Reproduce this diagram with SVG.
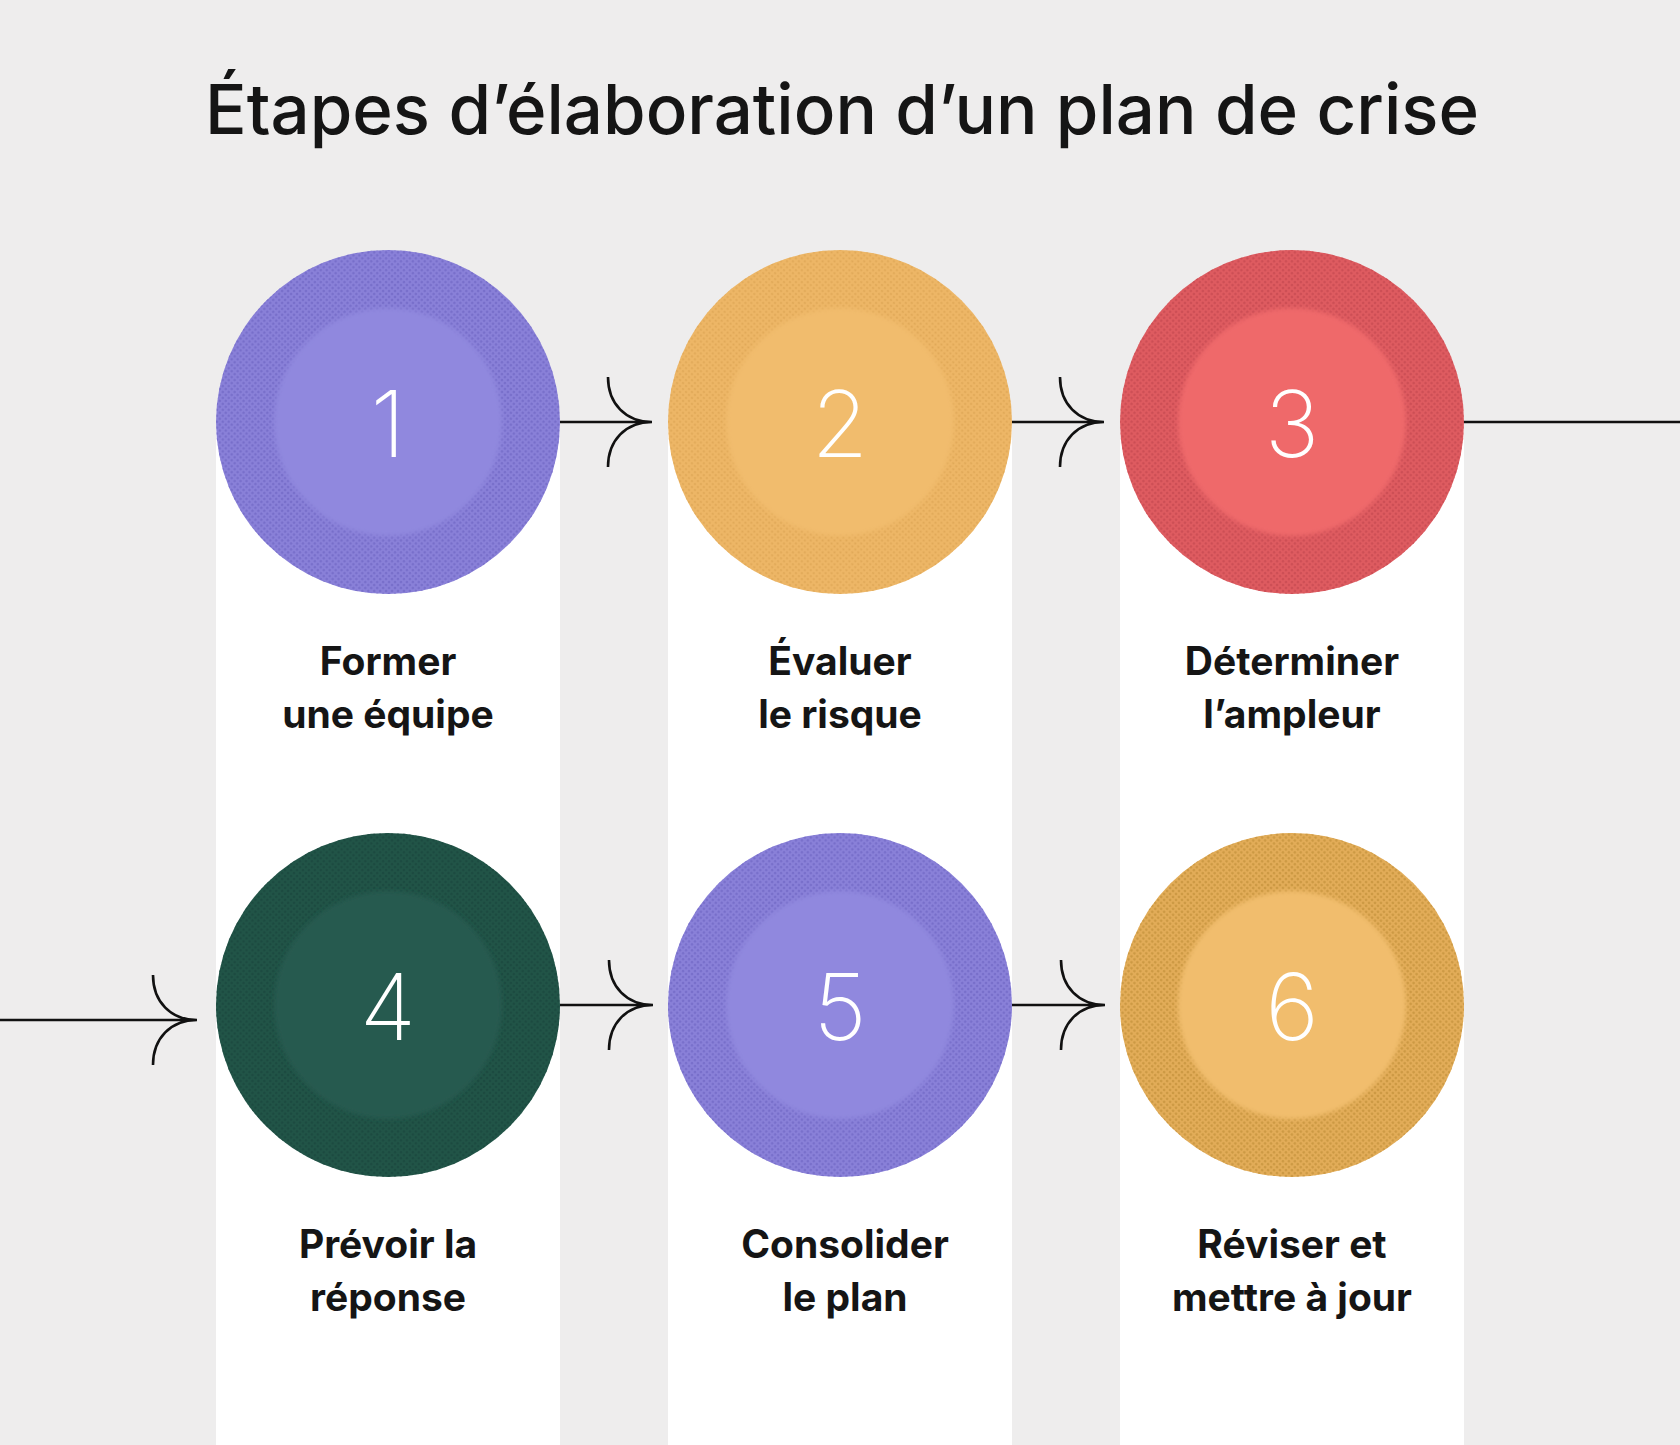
<svg xmlns="http://www.w3.org/2000/svg" width="1680" height="1445" viewBox="0 0 1680 1445">
<style>
.title{font-family:Inter,"Noto Sans",sans-serif;font-weight:500;font-size:69px;fill:#151515;text-anchor:middle}
.num{font-family:Inter,"Noto Sans",sans-serif;font-weight:200;font-size:92px;fill:#ffffff;text-anchor:middle}
.lbl{font-family:Inter,"Noto Sans",sans-serif;font-weight:700;font-size:39px;fill:#151515;text-anchor:middle}
.col{fill:#ffffff}
.conn{fill:none;stroke:#111111;stroke-width:2.6;stroke-linecap:butt}
</style>
<defs>
<pattern id="dPurple" width="4.2" height="4.2" patternUnits="userSpaceOnUse" patternTransform="rotate(45)"><circle cx="2.1" cy="2.1" r="1.2" fill="#7269c6"/></pattern>
<pattern id="dYellow" width="4.2" height="4.2" patternUnits="userSpaceOnUse" patternTransform="rotate(45)"><circle cx="2.1" cy="2.1" r="1.1" fill="#dba352"/></pattern>
<pattern id="dRed" width="4.2" height="4.2" patternUnits="userSpaceOnUse" patternTransform="rotate(45)"><circle cx="2.1" cy="2.1" r="1.2" fill="#c84b52"/></pattern>
<pattern id="dGreen" width="4.2" height="4.2" patternUnits="userSpaceOnUse" patternTransform="rotate(45)"><circle cx="2.1" cy="2.1" r="1.2" fill="#1a473e"/></pattern>
<pattern id="dGold" width="4.2" height="4.2" patternUnits="userSpaceOnUse" patternTransform="rotate(45)"><circle cx="2.1" cy="2.1" r="1.3" fill="#c8953f"/></pattern>
<filter id="soft" x="-10%" y="-10%" width="120%" height="120%"><feGaussianBlur stdDeviation="2"/></filter>
</defs>
<rect x="0" y="0" width="1680" height="1445" fill="#eeeded"/>
<rect class="col" x="216" y="422" width="344" height="1023"/>
<rect class="col" x="668" y="422" width="344" height="1023"/>
<rect class="col" x="1120" y="422" width="344" height="1023"/>
<text class="title" x="842" y="134">Étapes d’élaboration d’un plan de crise</text>
<g id="connectors">
<path class="conn" d="M560 422 H652 M608 377 C608 404 626 422 652 422 C626 422 608 440 608 467"/>
<path class="conn" d="M1012 422 H1104 M1060 377 C1060 404 1078 422 1104 422 C1078 422 1060 440 1060 467"/>
<path class="conn" d="M1464 422 H1680"/>
<path class="conn" d="M0 1020 H197 M153 975 C153 1002 171 1020 197 1020 C171 1020 153 1038 153 1065"/>
<path class="conn" d="M560 1005 H653 M609 960 C609 987 627 1005 653 1005 C627 1005 609 1023 609 1050"/>
<path class="conn" d="M1012 1005 H1105 M1061 960 C1061 987 1079 1005 1105 1005 C1079 1005 1061 1023 1061 1050"/>
</g>
<g id="node1">
<circle cx="388" cy="422" r="172" fill="#8980d8"/>
<circle cx="388" cy="422" r="172" fill="url(#dPurple)" opacity="0.8"/>
<circle cx="388" cy="422" r="114" fill="#9088de" filter="url(#soft)"/>
<text class="num" x="388" y="457">1</text>
<text class="lbl" x="388" y="675">Former</text>
<text class="lbl" x="388" y="728">une équipe</text>
</g>
<g id="node2">
<circle cx="840" cy="422" r="172" fill="#edb666"/>
<circle cx="840" cy="422" r="172" fill="url(#dYellow)" opacity="0.7"/>
<circle cx="840" cy="422" r="114" fill="#f1bc6d" filter="url(#soft)"/>
<text class="num" x="840" y="457">2</text>
<text class="lbl" x="840" y="675">Évaluer</text>
<text class="lbl" x="840" y="728">le risque</text>
</g>
<g id="node3">
<circle cx="1292" cy="422" r="172" fill="#de5b60"/>
<circle cx="1292" cy="422" r="172" fill="url(#dRed)" opacity="0.85"/>
<circle cx="1292" cy="422" r="114" fill="#ef696b" filter="url(#soft)"/>
<text class="num" x="1292" y="457">3</text>
<text class="lbl" x="1292" y="675">Déterminer</text>
<text class="lbl" x="1292" y="728">l’ampleur</text>
</g>
<g id="node4">
<circle cx="388" cy="1005" r="172" fill="#215447"/>
<circle cx="388" cy="1005" r="172" fill="url(#dGreen)" opacity="0.8"/>
<circle cx="388" cy="1005" r="114" fill="#265a50" filter="url(#soft)"/>
<text class="num" x="388" y="1040">4</text>
<text class="lbl" x="388" y="1258">Prévoir la</text>
<text class="lbl" x="388" y="1311">réponse</text>
</g>
<g id="node5">
<circle cx="840" cy="1005" r="172" fill="#8980d8"/>
<circle cx="840" cy="1005" r="172" fill="url(#dPurple)" opacity="0.8"/>
<circle cx="840" cy="1005" r="114" fill="#9088de" filter="url(#soft)"/>
<text class="num" x="840" y="1040">5</text>
<text class="lbl" x="845" y="1258">Consolider</text>
<text class="lbl" x="845" y="1311">le plan</text>
</g>
<g id="node6">
<circle cx="1292" cy="1005" r="172" fill="#e2ac58"/>
<circle cx="1292" cy="1005" r="172" fill="url(#dGold)" opacity="0.85"/>
<circle cx="1292" cy="1005" r="114" fill="#f1bd6d" filter="url(#soft)"/>
<text class="num" x="1292" y="1040">6</text>
<text class="lbl" x="1292" y="1258">Réviser et</text>
<text class="lbl" x="1292" y="1311">mettre à jour</text>
</g>
</svg>
